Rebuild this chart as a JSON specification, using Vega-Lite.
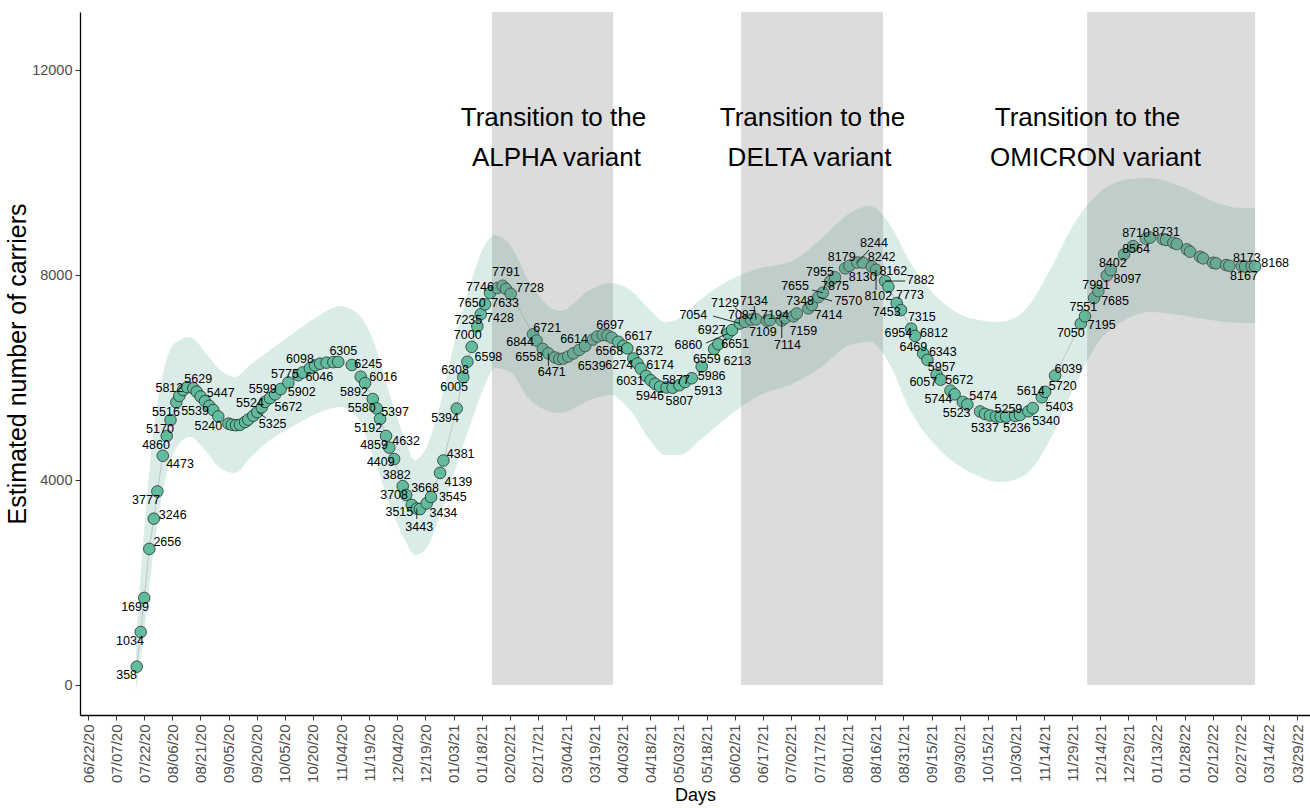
{
  "$schema": "https://vega.github.io/schema/vega-lite/v6.json",
  "width": 1230,
  "height": 703,
  "autosize": {"type": "none"},
  "padding": {"left": 80, "top": 12, "right": 0, "bottom": 93},
  "background": "white",
  "config": {"view": {"stroke": null}},
  "datasets": {
    "points": [
      {"day":26.0,"value":358},{"day":28.1,"value":1034},{"day":30.0,"value":1699},{"day":32.7,"value":2656},{"day":35.1,"value":3246},{"day":37.0,"value":3777},{"day":39.9,"value":4473},{"day":42.0,"value":4860},{"day":44.0,"value":5170},{"day":47.1,"value":5516},{"day":48.7,"value":5640},{"day":50.8,"value":5756},{"day":53.0,"value":5812},{"day":56.2,"value":5790},{"day":58.0,"value":5723},{"day":60.1,"value":5629},{"day":62.4,"value":5539},{"day":64.7,"value":5447},{"day":66.8,"value":5366},{"day":69.5,"value":5240},{"day":74.9,"value":5100},{"day":76.7,"value":5080},{"day":79.0,"value":5070},{"day":81.1,"value":5078},{"day":83.8,"value":5130},{"day":85.5,"value":5180},{"day":88.2,"value":5255},{"day":90.3,"value":5325},{"day":92.7,"value":5419},{"day":94.4,"value":5524},{"day":97.1,"value":5599},{"day":99.8,"value":5672},{"day":102.8,"value":5775},{"day":106.9,"value":5902},{"day":112.2,"value":6046},{"day":114.5,"value":6098},{"day":118.4,"value":6180},{"day":121.1,"value":6235},{"day":123.8,"value":6270},{"day":127.3,"value":6290},{"day":130.9,"value":6300},{"day":133.5,"value":6305},{"day":140.7,"value":6245},{"day":145.5,"value":6016},{"day":147.8,"value":5892},{"day":151.9,"value":5580},{"day":154.0,"value":5397},{"day":155.8,"value":5192},{"day":159.0,"value":4859},{"day":160.7,"value":4632},{"day":163.3,"value":4409},{"day":167.9,"value":3882},{"day":169.7,"value":3708},{"day":172.7,"value":3515},{"day":175.4,"value":3443},{"day":177.1,"value":3434},{"day":180.7,"value":3545},{"day":183.0,"value":3668},{"day":187.8,"value":4139},{"day":189.6,"value":4381},{"day":196.7,"value":5394},{"day":200.2,"value":6005},{"day":202.4,"value":6308},{"day":204.7,"value":6598},{"day":207.7,"value":7000},{"day":209.5,"value":7235},{"day":211.8,"value":7428},{"day":214.5,"value":7650},{"day":218.4,"value":7746},{"day":221.2,"value":7791},{"day":223.0,"value":7728},{"day":225.5,"value":7633},{"day":237.4,"value":6844},{"day":239.3,"value":6721},{"day":242.6,"value":6558},{"day":245.6,"value":6471},{"day":249.1,"value":6390},{"day":251.4,"value":6360},{"day":253.6,"value":6370},{"day":256.2,"value":6410},{"day":258.9,"value":6470},{"day":262.1,"value":6539},{"day":265.2,"value":6614},{"day":269.3,"value":6740},{"day":271.7,"value":6800},{"day":274.6,"value":6830},{"day":277.1,"value":6820},{"day":279.4,"value":6780},{"day":282.9,"value":6697},{"day":285.6,"value":6617},{"day":287.7,"value":6568},{"day":290.9,"value":6372},{"day":293.1,"value":6274},{"day":294.9,"value":6174},{"day":297.7,"value":6031},{"day":300.2,"value":5946},{"day":302.5,"value":5877},{"day":305.2,"value":5821},{"day":308.7,"value":5807},{"day":311.9,"value":5800},{"day":315.5,"value":5850},{"day":318.5,"value":5913},{"day":322.1,"value":5986},{"day":327.4,"value":6213},{"day":334.0,"value":6559},{"day":336.3,"value":6651},{"day":341.4,"value":6860},{"day":343.6,"value":6927},{"day":347.8,"value":7054},{"day":350.5,"value":7087},{"day":353.7,"value":7129},{"day":356.4,"value":7134},{"day":362.1,"value":7109},{"day":363.8,"value":7120},{"day":370.1,"value":7114},{"day":371.8,"value":7159},{"day":376.3,"value":7194},{"day":378.1,"value":7250},{"day":384.3,"value":7348},{"day":386.1,"value":7414},{"day":389.6,"value":7570},{"day":392.0,"value":7655},{"day":395.9,"value":7875},{"day":398.5,"value":7955},{"day":403.9,"value":8130},{"day":406.2,"value":8179},{"day":410.4,"value":8244},{"day":413.3,"value":8242},{"day":418.1,"value":8162},{"day":420.4,"value":8102},{"day":425.2,"value":7882},{"day":427.0,"value":7773},{"day":431.4,"value":7453},{"day":433.7,"value":7315},{"day":439.1,"value":6954},{"day":441.2,"value":6812},{"day":445.5,"value":6469},{"day":447.8,"value":6343},{"day":452.7,"value":6057},{"day":454.8,"value":5957},{"day":460.1,"value":5744},{"day":462.3,"value":5672},{"day":466.7,"value":5523},{"day":469.1,"value":5474},{"day":475.9,"value":5337},{"day":478.5,"value":5290},{"day":481.2,"value":5259},{"day":484.4,"value":5240},{"day":486.9,"value":5236},{"day":489.8,"value":5236},{"day":494.6,"value":5250},{"day":497.2,"value":5270},{"day":501.7,"value":5340},{"day":504.0,"value":5403},{"day":508.8,"value":5614},{"day":510.6,"value":5720},{"day":515.9,"value":6039},{"day":529.6,"value":7050},{"day":531.9,"value":7195},{"day":536.7,"value":7551},{"day":539.0,"value":7685},{"day":543.5,"value":7991},{"day":545.6,"value":8097},{"day":552.7,"value":8402},{"day":557.5,"value":8564},{"day":564.4,"value":8710},{"day":566.6,"value":8731},{"day":573.4,"value":8700},{"day":575.1,"value":8685},{"day":579.0,"value":8630},{"day":580.8,"value":8605},{"day":586.2,"value":8501},{"day":587.9,"value":8455},{"day":593.3,"value":8357},{"day":594.9,"value":8325},{"day":600.2,"value":8240},{"day":601.8,"value":8228},{"day":607.1,"value":8195},{"day":608.9,"value":8180},{"day":615.5,"value":8173},{"day":617.3,"value":8167},{"day":620.8,"value":8170},{"day":622.6,"value":8168}
    ],
    "band": [
      {"day":25.6,"value":-100,"value2":878},{"day":30.4,"value":1171,"value2":3219},{"day":35.7,"value":2829,"value2":5171},{"day":41.1,"value":4000,"value2":6244},{"day":46.4,"value":4585,"value2":6673},{"day":54.4,"value":4839,"value2":6790},{"day":62.4,"value":4585,"value2":6497},{"day":70.4,"value":4234,"value2":6146},{"day":78.4,"value":4137,"value2":6010},{"day":86.4,"value":4429,"value2":6244},{"day":97.1,"value":4780,"value2":6537},{"day":110.4,"value":5073,"value2":6888},{"day":123.8,"value":5327,"value2":7219},{"day":134.4,"value":5424,"value2":7395},{"day":143.5,"value":5229,"value2":7258},{"day":152.0,"value":4488,"value2":6732},{"day":161.1,"value":3512,"value2":5658},{"day":169.1,"value":2829,"value2":4780},{"day":174.5,"value":2537,"value2":4390},{"day":179.8,"value":2634,"value2":4585},{"day":187.8,"value":3317,"value2":5463},{"day":195.8,"value":4195,"value2":6732},{"day":203.8,"value":5073,"value2":7805},{"day":211.8,"value":5854,"value2":8585},{"day":217.1,"value":6185,"value2":8780},{"day":225.1,"value":6107,"value2":8585},{"day":235.8,"value":5561,"value2":7844},{"day":251.8,"value":5307,"value2":7297},{"day":267.8,"value":5561,"value2":7707},{"day":278.5,"value":5658,"value2":7844},{"day":289.2,"value":5366,"value2":7707},{"day":299.8,"value":4780,"value2":7317},{"day":307.8,"value":4488,"value2":7083},{"day":315.8,"value":4488,"value2":7161},{"day":326.5,"value":4780,"value2":7512},{"day":342.5,"value":5268,"value2":7902},{"day":358.5,"value":5658,"value2":8137},{"day":374.5,"value":5854,"value2":8254},{"day":390.5,"value":6185,"value2":8683},{"day":406.5,"value":6634,"value2":9210},{"day":417.2,"value":6693,"value2":9346},{"day":427.9,"value":6244,"value2":8976},{"day":438.5,"value":5366,"value2":8254},{"day":454.5,"value":4585,"value2":7512},{"day":470.5,"value":4156,"value2":7161},{"day":486.6,"value":3961,"value2":7083},{"day":499.9,"value":4098,"value2":7317},{"day":513.2,"value":4780,"value2":8097},{"day":526.6,"value":5854,"value2":9034},{"day":539.9,"value":6732,"value2":9619},{"day":553.2,"value":7122,"value2":9854},{"day":566.6,"value":7278,"value2":9893},{"day":582.6,"value":7219,"value2":9736},{"day":598.6,"value":7122,"value2":9463},{"day":614.6,"value":7063,"value2":9307},{"day":622.6,"value":7063,"value2":9307}
    ],
    "periods": [
      {"day":215.5,"day2":280.1,"value":0,"value2":13132},
      {"day":348.4,"day2":424.1,"value":0,"value2":13132},
      {"day":533.0,"day2":622.6,"value":0,"value2":13132}
    ],
    "labels": [
      {"day":20.6,"value":195,"label":"358"},{"day":22.4,"value":864,"label":"1034"},{"day":25.1,"value":1528,"label":"1699"},{"day":42.3,"value":2790,"label":"2656"},{"day":45.2,"value":3311,"label":"3246"},{"day":30.9,"value":3610,"label":"3777"},{"day":49.1,"value":4312,"label":"4473"},{"day":36.3,"value":4683,"label":"4860"},{"day":38.4,"value":4989,"label":"5170"},{"day":41.6,"value":5333,"label":"5516"},{"day":43.4,"value":5801,"label":"5812"},{"day":58.8,"value":5971,"label":"5629"},{"day":70.8,"value":5692,"label":"5447"},{"day":57.1,"value":5352,"label":"5539"},{"day":64.2,"value":5059,"label":"5240"},{"day":86.4,"value":5497,"label":"5524"},{"day":93.2,"value":5776,"label":"5599"},{"day":106.9,"value":5430,"label":"5672"},{"day":98.5,"value":5087,"label":"5325"},{"day":105.1,"value":6068,"label":"5775"},{"day":114.0,"value":5723,"label":"5902"},{"day":113.1,"value":6355,"label":"6098"},{"day":123.4,"value":6016,"label":"6046"},{"day":136.2,"value":6523,"label":"6305"},{"day":149.5,"value":6263,"label":"6245"},{"day":141.9,"value":5711,"label":"5892"},{"day":146.0,"value":5399,"label":"5580"},{"day":149.5,"value":5009,"label":"5192"},{"day":157.5,"value":6016,"label":"6016"},{"day":163.8,"value":5333,"label":"5397"},{"day":152.6,"value":4683,"label":"4859"},{"day":169.7,"value":4767,"label":"4632"},{"day":156.2,"value":4357,"label":"4409"},{"day":164.7,"value":4098,"label":"3882"},{"day":163.3,"value":3707,"label":"3708"},{"day":179.8,"value":3838,"label":"3668"},{"day":194.6,"value":3674,"label":"3545"},{"day":166.1,"value":3381,"label":"3515"},{"day":189.6,"value":3362,"label":"3434"},{"day":176.7,"value":3089,"label":"3443"},{"day":197.6,"value":3967,"label":"4139"},{"day":198.8,"value":4507,"label":"4381"},{"day":190.5,"value":5204,"label":"5394"},{"day":195.3,"value":5820,"label":"6005"},{"day":195.8,"value":6146,"label":"6308"},{"day":213.6,"value":6406,"label":"6598"},{"day":202.6,"value":6829,"label":"7000"},{"day":202.9,"value":7122,"label":"7235"},{"day":219.8,"value":7167,"label":"7428"},{"day":204.7,"value":7459,"label":"7650"},{"day":222.5,"value":7459,"label":"7633"},{"day":209.1,"value":7772,"label":"7746"},{"day":223.0,"value":8053,"label":"7791"},{"day":235.8,"value":7740,"label":"7728"},{"day":230.5,"value":6699,"label":"6844"},{"day":245.0,"value":6972,"label":"6721"},{"day":235.4,"value":6406,"label":"6558"},{"day":247.4,"value":6113,"label":"6471"},{"day":259.3,"value":6745,"label":"6614"},{"day":268.7,"value":6224,"label":"6539"},{"day":278.5,"value":7024,"label":"6697"},{"day":293.6,"value":6810,"label":"6617"},{"day":278.1,"value":6523,"label":"6568"},{"day":299.5,"value":6523,"label":"6372"},{"day":283.4,"value":6244,"label":"6274"},{"day":305.2,"value":6244,"label":"6174"},{"day":289.2,"value":5938,"label":"6031"},{"day":299.8,"value":5639,"label":"5946"},{"day":313.7,"value":5951,"label":"5877"},{"day":315.5,"value":5541,"label":"5807"},{"day":330.9,"value":5743,"label":"5913"},{"day":332.7,"value":6029,"label":"5986"},{"day":346.4,"value":6328,"label":"6213"},{"day":330.1,"value":6355,"label":"6559"},{"day":345.2,"value":6654,"label":"6651"},{"day":320.3,"value":6634,"label":"6860"},{"day":332.7,"value":6927,"label":"6927"},{"day":322.9,"value":7219,"label":"7054"},{"day":339.8,"value":7459,"label":"7129"},{"day":355.3,"value":7498,"label":"7134"},{"day":348.8,"value":7219,"label":"7087"},{"day":366.5,"value":7219,"label":"7194"},{"day":360.0,"value":6894,"label":"7109"},{"day":373.1,"value":6634,"label":"7114"},{"day":381.6,"value":6913,"label":"7159"},{"day":379.9,"value":7498,"label":"7348"},{"day":395.0,"value":7219,"label":"7414"},{"day":405.6,"value":7498,"label":"7570"},{"day":377.2,"value":7785,"label":"7655"},{"day":398.5,"value":7785,"label":"7875"},{"day":390.5,"value":8064,"label":"7955"},{"day":402.1,"value":8357,"label":"8179"},{"day":419.3,"value":8630,"label":"8244"},{"day":423.4,"value":8357,"label":"8242"},{"day":413.3,"value":7955,"label":"8130"},{"day":429.6,"value":8084,"label":"8162"},{"day":421.6,"value":7590,"label":"8102"},{"day":444.2,"value":7902,"label":"7882"},{"day":438.5,"value":7610,"label":"7773"},{"day":426.1,"value":7284,"label":"7453"},{"day":444.8,"value":7175,"label":"7315"},{"day":432.3,"value":6874,"label":"6954"},{"day":451.3,"value":6874,"label":"6812"},{"day":440.3,"value":6601,"label":"6469"},{"day":456.0,"value":6503,"label":"6343"},{"day":455.4,"value":6211,"label":"5957"},{"day":445.6,"value":5918,"label":"6057"},{"day":464.8,"value":5951,"label":"5672"},{"day":453.6,"value":5575,"label":"5744"},{"day":463.4,"value":5313,"label":"5523"},{"day":477.6,"value":5639,"label":"5474"},{"day":478.5,"value":5009,"label":"5337"},{"day":491.0,"value":5379,"label":"5259"},{"day":495.5,"value":5009,"label":"5236"},{"day":511.1,"value":5157,"label":"5340"},{"day":518.2,"value":5430,"label":"5403"},{"day":502.9,"value":5737,"label":"5614"},{"day":520.0,"value":5834,"label":"5720"},{"day":523.0,"value":6160,"label":"6039"},{"day":524.3,"value":6862,"label":"7050"},{"day":540.8,"value":7024,"label":"7195"},{"day":531.0,"value":7370,"label":"7551"},{"day":547.9,"value":7498,"label":"7685"},{"day":537.8,"value":7805,"label":"7991"},{"day":554.5,"value":7916,"label":"8097"},{"day":546.7,"value":8228,"label":"8402"},{"day":559.1,"value":8501,"label":"8564"},{"day":559.1,"value":8825,"label":"8710"},{"day":575.1,"value":8845,"label":"8731"},{"day":618.2,"value":8326,"label":"8173"},{"day":616.7,"value":7980,"label":"8167"},{"day":633.3,"value":8240,"label":"8168"}
    ],
    "segments": [
      {"day":333.4,"value":7200,"day2":347.8,"value2":7054},
      {"day":329.7,"value":6673,"day2":341.4,"value2":6860},
      {"day":345.2,"value":7356,"day2":353.7,"value2":7129},
      {"day":355.3,"value":7395,"day2":356.4,"value2":7134},
      {"day":370.1,"value":6771,"day2":370.1,"value2":7114},
      {"day":386.3,"value":7707,"day2":392.0,"value2":7655},
      {"day":396.9,"value":7493,"day2":389.6,"value2":7570},
      {"day":416.6,"value":8488,"day2":410.4,"value2":8244},
      {"day":420.4,"value":7707,"day2":420.4,"value2":8102},
      {"day":435.9,"value":7883,"day2":425.2,"value2":7882},
      {"day":175.4,"value":3239,"day2":175.4,"value2":3443},
      {"day":245.6,"value":6224,"day2":245.6,"value2":6471},
      {"day":95.0,"value":5210,"day2":90.3,"value2":5325}
    ],
    "notes": [
      {"day":248.3,"value":10907,"text":"Transition to the"},
      {"day":249.9,"value":10127,"text":"ALPHA variant"},
      {"day":386.5,"value":10907,"text":"Transition to the"},
      {"day":384.9,"value":10127,"text":"DELTA variant"},
      {"day":533.2,"value":10907,"text":"Transition to the"},
      {"day":537.5,"value":10127,"text":"OMICRON variant"}
    ]
  },
  "encoding": {
    "x": {
      "field": "day", "type": "quantitative", "title": "Days",
      "scale": {"domain": [-4.27, 651.9], "nice": false, "zero": false},
      "axis": {
        "values": [0,15,30,45,60,75,90,105,120,135,150,165,180,195,210,225,240,255,270,285,300,315,330,345,360,375,390,405,420,435,450,465,480,495,510,525,540,555,570,585,600,615,630,645],
        "labelExpr": "utcFormat(utc(2020, 5, 22 + datum.value), '%m/%d/%y')",
        "labelAngle": 270, "labelAlign": "right", "labelBaseline": "middle",
        "labelFont": "Liberation Sans", "labelFontSize": 15, "labelColor": "#4d4d4d",
        "labelPadding": 4, "labelOverlap": false, "labelFlush": false,
        "tickSize": 5, "tickColor": "#333333", "tickWidth": 1,
        "domainColor": "#000000", "domainWidth": 1.3, "grid": false,
        "titleFont": "Liberation Sans", "titleFontSize": 18, "titleFontWeight": "normal",
        "titleColor": "#000000", "titlePadding": 4
      }
    },
    "y": {
      "field": "value", "type": "quantitative", "title": "Estimated number of carriers",
      "scale": {"domain": [-585, 13132], "nice": false, "zero": false},
      "axis": {
        "values": [0, 4000, 8000, 12000], "format": "d",
        "labelFont": "Liberation Sans", "labelFontSize": 14.5, "labelColor": "#4d4d4d",
        "labelPadding": 3, "tickSize": 5, "tickColor": "#333333", "tickWidth": 1,
        "domainColor": "#000000", "domainWidth": 1.3, "grid": false,
        "titleFont": "Liberation Sans", "titleFontSize": 25, "titleFontWeight": "normal",
        "titleColor": "#000000", "titlePadding": 1
      }
    }
  },
  "layer": [
    {
      "data": {"name": "band"},
      "mark": {"type": "area", "color": "#69b3a2", "opacity": 0.25, "interpolate": "monotone"},
      "encoding": {"y2": {"field": "value2"}}
    },
    {
      "data": {"name": "points"},
      "mark": {"type": "line", "color": "#b5b5b5", "strokeWidth": 0.7},
      "encoding": {}
    },
    {
      "data": {"name": "points"},
      "mark": {"type": "point", "shape": "circle", "filled": true, "size": 135, "fill": "#62bb9f", "stroke": "#1a1a1a", "strokeWidth": 0.7, "opacity": 1}
    },
    {
      "data": {"name": "periods"},
      "mark": {"type": "rect", "color": "#7f7f7f", "opacity": 0.27},
      "encoding": {"x2": {"field": "day2"}, "y2": {"field": "value2"}}
    },
    {
      "data": {"name": "segments"},
      "mark": {"type": "rule", "color": "#000000", "strokeWidth": 0.8},
      "encoding": {"x2": {"field": "day2"}, "y2": {"field": "value2"}}
    },
    {
      "data": {"name": "labels"},
      "mark": {"type": "text", "font": "Liberation Sans", "fontSize": 12.5, "color": "#000000", "align": "center", "baseline": "middle"},
      "encoding": {"text": {"field": "label"}}
    },
    {
      "data": {"name": "notes"},
      "mark": {"type": "text", "font": "Liberation Sans", "fontSize": 26, "color": "#000000", "align": "center", "baseline": "alphabetic"},
      "encoding": {"text": {"field": "text"}}
    }
  ]
}
